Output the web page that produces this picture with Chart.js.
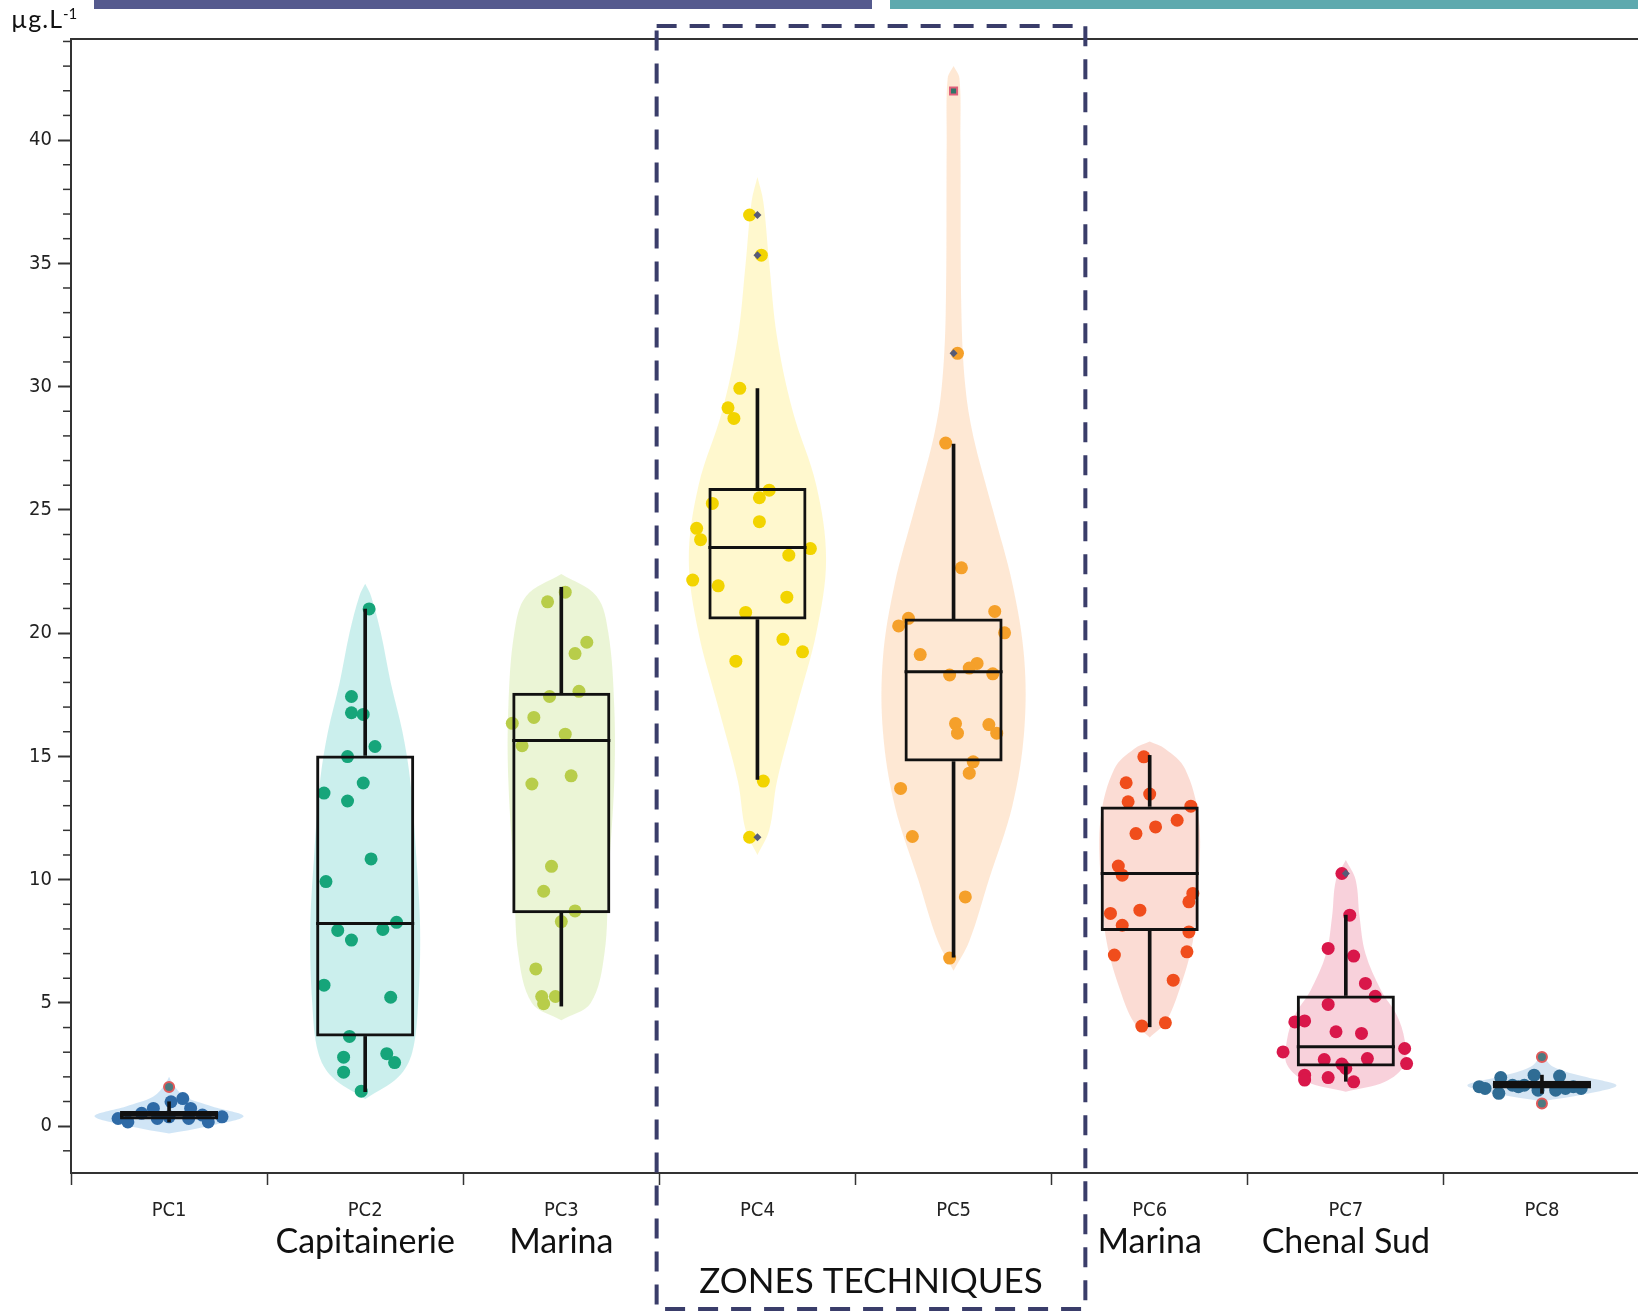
<!DOCTYPE html>
<html>
<head>
<meta charset="utf-8">
<title>PC1-PC8</title>
<script src="https://cdn.jsdelivr.net/npm/chart.js@4.4.0/dist/chart.umd.min.js"></script>
<style>
html, body { margin: 0; padding: 0; background: #fff; overflow: hidden; }
#wrap { position: relative; width: 1638px; height: 1313px; overflow: hidden; }
#chart { position: absolute; left: 0; top: 0; }
.band { position: absolute; top: 0; height: 9px; }
#unit { position: absolute; left: 11px; top: 3px; font: 25px Lato, sans-serif; letter-spacing: 1px; color: #111; }
#unit sup { font-size: 15px; letter-spacing: 0; }
</style>
</head>
<body>
<div id="wrap">
  <canvas id="chart" width="1647" height="1313"></canvas>
  <div class="band" style="left:94px;width:778px;background:#555a8e"></div>
  <div class="band" style="left:890px;width:760px;background:#5ea9ae"></div>
  <div id="unit">µg.L<sup>-1</sup></div>
</div>
<script>
// categories and labels
const categories = ['PC1', 'PC2', 'PC3', 'PC4', 'PC5', 'PC6', 'PC7', 'PC8'];
const siteNames = ['', 'Capitainerie', 'Marina', '', '', 'Marina', 'Chenal Sud', ''];
const zoneLabel = 'ZONES TECHNIQUES';
const yMin = -1.9;
const yMax = 44.1;

// box plot stats (µg/L)
const boxQ1 = [0.27, 3.64, 8.64, 20.55, 14.79, 7.92, 2.42, 1.53];
const boxMedian = [0.45, 8.22, 15.64, 23.47, 18.43, 10.25, 3.22, 1.69];
const boxQ3 = [0.62, 15.04, 17.58, 25.89, 20.59, 12.97, 5.30, 1.84];
const whiskerLow = [0.17, 1.40, 4.87, 14.07, 6.86, 4.03, 1.82, 1.33];
const whiskerHigh = [0.99, 20.97, 21.86, 29.92, 27.67, 15.04, 8.56, 2.07];

// jittered points: [horizontal jitter, value]
const pointsPC1 = [[-0.26,0.31],[-0.21,0.17],[-0.14,0.52],[-0.08,0.72],[-0.06,0.31],[0.00,0.38],[0.01,0.99],[0.07,1.12],[0.10,0.31],[0.11,0.72],[0.17,0.45],[0.20,0.17],[0.27,0.38]];
const pointsPC2 = [[0.02,20.98],[-0.07,17.43],[-0.07,16.77],[-0.01,16.70],[0.05,15.40],[-0.09,14.99],[-0.01,13.92],[-0.21,13.51],[-0.09,13.19],[0.03,10.84],[-0.20,9.92],[0.16,8.27],[-0.14,7.94],[0.09,7.98],[-0.07,7.55],[-0.21,5.72],[0.13,5.23],[-0.08,3.64],[0.11,2.94],[0.15,2.58],[-0.11,2.80],[-0.11,2.19],[-0.02,1.42]];
const pointsPC3 = [[0.02,21.66],[-0.07,21.27],[0.13,19.63],[0.07,19.17],[0.09,17.64],[-0.06,17.43],[-0.25,16.34],[-0.14,16.58],[0.02,15.90],[-0.20,15.43],[-0.15,13.88],[0.05,14.21],[-0.05,10.54],[-0.09,9.53],[0.07,8.73],[0.00,8.30],[-0.13,6.38],[-0.10,5.26],[-0.09,4.97],[-0.03,5.26]];
const pointsPC4 = [[-0.04,36.96],[0.02,35.33],[-0.09,29.93],[-0.15,29.14],[-0.12,28.71],[0.06,25.80],[0.01,25.49],[-0.23,25.26],[0.01,24.52],[-0.31,24.25],[-0.29,23.79],[0.27,23.43],[0.16,23.16],[-0.33,22.15],[-0.20,21.92],[0.15,21.46],[-0.06,20.84],[0.13,19.75],[0.23,19.24],[-0.11,18.86],[0.03,14.00],[-0.04,11.72]];
const pointsPC5 = [[0.02,31.35],[-0.04,27.71],[0.04,22.65],[0.21,20.88],[-0.23,20.60],[-0.28,20.29],[0.26,20.01],[-0.17,19.13],[0.12,18.77],[0.08,18.58],[0.20,18.35],[-0.02,18.30],[0.01,16.33],[0.18,16.29],[0.02,15.94],[0.22,15.94],[0.10,14.78],[0.08,14.32],[-0.27,13.70],[-0.21,11.75],[0.06,9.30],[-0.02,6.82]];
const pointsPC6 = [[-0.03,14.98],[-0.12,13.93],[0.00,13.47],[-0.11,13.16],[0.21,12.98],[0.14,12.41],[0.03,12.14],[-0.07,11.87],[-0.16,10.55],[-0.14,10.18],[0.22,9.44],[0.20,9.10],[-0.05,8.76],[-0.20,8.63],[-0.14,8.15],[0.20,7.88],[-0.18,6.94],[0.19,7.07],[0.12,5.92],[-0.04,4.06],[0.08,4.19]];
const pointsPC7 = [[-0.02,10.25],[0.02,8.56],[-0.09,7.21],[0.04,6.90],[0.10,5.79],[0.15,5.27],[-0.09,4.94],[-0.26,4.23],[-0.21,4.27],[-0.05,3.83],[0.08,3.76],[-0.32,3.01],[0.30,3.15],[-0.11,2.70],[0.11,2.74],[-0.02,2.52],[0.31,2.54],[0.00,2.34],[-0.21,2.07],[-0.09,1.97],[0.04,1.80],[-0.21,1.87]];
const pointsPC8 = [[-0.32,1.60],[-0.29,1.53],[-0.21,1.97],[-0.22,1.33],[-0.15,1.66],[-0.12,1.60],[-0.09,1.66],[-0.04,2.07],[-0.02,1.46],[0.07,1.46],[0.09,2.03],[0.12,1.53],[0.16,1.60],[0.20,1.53]];

// violin outlines: [value, half width in category units]
const violinPC1 = [[-0.3,0],[0.0,0.2],[0.4,0.38],[0.8,0.22],[1.2,0.08],[1.7,0.02],[2.0,0]];
const violinPC2 = [[1.1,0],[2,0.17],[3,0.24],[5,0.27],[8,0.28],[11,0.26],[14,0.23],[16,0.19],[18,0.13],[20,0.08],[21.5,0.03],[22,0]];
const violinPC3 = [[4.3,0],[5,0.15],[7,0.22],[10,0.24],[14,0.27],[17,0.27],[20,0.24],[21.5,0.18],[22.4,0]];
const violinPC4 = [[11,0],[12,0.06],[14,0.1],[17,0.2],[20,0.3],[23,0.35],[26,0.3],[29,0.18],[32,0.1],[35,0.06],[37.5,0.03],[38.5,0]];
const violinPC5 = [[6.3,0],[7.5,0.08],[10,0.18],[13,0.3],[16,0.36],[19,0.36],[22,0.3],[25,0.2],[28,0.1],[30,0.06],[33,0.04],[40,0.035],[42.5,0.03],[43,0]];
const violinPC6 = [[3.6,0],[4.2,0.08],[5.5,0.15],[7.5,0.22],[10,0.25],[12.5,0.25],[14.5,0.18],[15.3,0.08],[15.6,0]];
const violinPC7 = [[1.4,0],[1.8,0.2],[2.5,0.3],[3.5,0.3],[4.5,0.26],[5.5,0.18],[7,0.1],[8.5,0.07],[10,0.05],[10.8,0]];
const violinPC8 = [[1.0,0],[1.3,0.22],[1.65,0.38],[2.0,0.22],[2.4,0.06],[2.9,0]];

// outliers
const diamondOutlierGroup = [3, 3, 3, 4, 6];
const diamondOutlierValue = [36.96, 35.33, 11.72, 31.35, 10.25];
const ringOutlierGroup = [0, 7, 7];
const ringOutlierValue = [1.59, 2.81, 0.92];
const squareOutlierGroup = [4];
const squareOutlierValue = [41.99];

const pointColors = ['#2e6aa6', '#16a57a', '#b8cd4a', '#f2d400', '#f5a02a', '#f04d1c', '#d9174a', '#2f6c94'];
const violinColors = ['rgba(120,180,230,0.35)', 'rgba(160,225,222,0.55)', 'rgba(226,241,196,0.7)', 'rgba(255,245,190,0.75)',
    'rgba(253,224,198,0.75)', 'rgba(250,208,198,0.75)', 'rgba(246,198,210,0.8)', 'rgba(150,190,225,0.4)'];

const allPoints = [pointsPC1, pointsPC2, pointsPC3, pointsPC4, pointsPC5, pointsPC6, pointsPC7, pointsPC8];
const allViolins = [violinPC1, violinPC2, violinPC3, violinPC4, violinPC5, violinPC6, violinPC7, violinPC8];

const tickFont = '"DejaVu Sans Condensed", "Liberation Sans Narrow", sans-serif';

// closed outline: right side going up, left side coming down
function violinShape(profile, i) {
    const right = profile.map(p => ({x: i + p[1], y: p[0]}));
    const left = profile.slice().reverse().map(p => ({x: i - p[1], y: p[0]}));
    return right.concat(left);
}

const datasets = [];
allViolins.forEach((v, i) => {
    datasets.push({
        type: 'line', xAxisID: 'xv', data: violinShape(v, i),
        fill: 'shape', backgroundColor: violinColors[i], borderColor: 'rgba(0,0,0,0)', borderWidth: 0,
        pointRadius: 0, tension: 0.35, order: 10
    });
});
allPoints.forEach((pts, i) => {
    datasets.push({
        type: 'scatter', xAxisID: 'xv', data: pts.map(p => ({x: i + p[0], y: p[1]})),
        backgroundColor: pointColors[i], borderWidth: 0, pointRadius: 6.5, order: 8
    });
});
// whiskers as thin floating bars
datasets.push({
    type: 'bar', xAxisID: 'x', data: categories.map((c, i) => [whiskerLow[i], boxQ1[i]]),
    backgroundColor: '#111', barThickness: 3, grouped: false, order: 6
});
datasets.push({
    type: 'bar', xAxisID: 'x', data: categories.map((c, i) => [boxQ3[i], whiskerHigh[i]]),
    backgroundColor: '#111', barThickness: 3, grouped: false, order: 6
});
// boxes
const boxIndex = datasets.length;
datasets.push({
    type: 'bar', xAxisID: 'x', data: categories.map((c, i) => [boxQ1[i], boxQ3[i]]),
    backgroundColor: 'rgba(255,255,255,0)', borderColor: '#111', borderWidth: 3, borderSkipped: false,
    categoryPercentage: 1, barPercentage: 0.5, grouped: false, order: 5
});
// outliers
datasets.push({
    type: 'scatter', xAxisID: 'xv',
    data: diamondOutlierGroup.map((g, k) => ({x: g, y: diamondOutlierValue[k]})),
    pointStyle: 'rectRot', pointRadius: 4, backgroundColor: '#565b78', borderWidth: 0, order: 1
});
datasets.push({
    type: 'scatter', xAxisID: 'xv',
    data: ringOutlierGroup.map((g, k) => ({x: g, y: ringOutlierValue[k]})),
    pointRadius: 5, backgroundColor: '#4d7a80', borderColor: '#e05a5a', borderWidth: 2, order: 1
});
datasets.push({
    type: 'scatter', xAxisID: 'xv',
    data: squareOutlierGroup.map((g, k) => ({x: g, y: squareOutlierValue[k]})),
    pointStyle: 'rect', pointRadius: 5, backgroundColor: '#2f7468', borderColor: '#e0607a', borderWidth: 2, order: 1
});

const decor = {
    id: 'decor',
    afterDatasetsDraw(chart) {
        // median lines across the boxes
        const ctx = chart.ctx;
        const y = chart.scales.y;
        const meta = chart.getDatasetMeta(boxIndex);
        ctx.save();
        ctx.strokeStyle = '#111';
        ctx.lineWidth = 3;
        meta.data.forEach((bar, i) => {
            const py = y.getPixelForValue(boxMedian[i]);
            ctx.beginPath();
            ctx.moveTo(bar.x - bar.width / 2, py);
            ctx.lineTo(bar.x + bar.width / 2, py);
            ctx.stroke();
        });
        ctx.restore();
    },
    afterDraw(chart) {
        const ctx = chart.ctx;
        const area = chart.chartArea;
        const y = chart.scales.y;
        const x = chart.scales.x;
        const xv = chart.scales.xv;
        ctx.save();
        // top frame line
        ctx.strokeStyle = '#333';
        ctx.lineWidth = 2;
        ctx.beginPath();
        ctx.moveTo(area.left, area.top);
        ctx.lineTo(area.right, area.top);
        ctx.stroke();
        // minor ticks every unit
        ctx.lineWidth = 1.5;
        for (let v = Math.ceil(yMin); v <= Math.floor(yMax); v++) {
            if (v % 5 === 0) continue;
            const py = y.getPixelForValue(v);
            ctx.beginPath();
            ctx.moveTo(area.left - 8, py);
            ctx.lineTo(area.left, py);
            ctx.stroke();
        }
        // site names under the PC labels
        ctx.fillStyle = '#111';
        ctx.font = '34px Lato, sans-serif';
        ctx.textAlign = 'center';
        ctx.textBaseline = 'middle';
        siteNames.forEach((name, i) => {
            if (name) ctx.fillText(name, x.getPixelForValue(i), area.bottom + 69);
        });
        // technical zones dashed frame
        const left = xv.getPixelForValue(2.486);
        const right = xv.getPixelForValue(4.672);
        ctx.strokeStyle = '#3a3d6a';
        ctx.lineWidth = 4;
        ctx.setLineDash([20, 13]);
        ctx.strokeRect(left, area.top - 13, right - left, area.bottom - area.top + 149);
        ctx.setLineDash([]);
        ctx.font = '35px Lato, sans-serif';
        ctx.fillText(zoneLabel, (left + right) / 2, area.bottom + 109);
        ctx.restore();
    }
};

new Chart(document.getElementById('chart'), {
    type: 'bar',
    data: { labels: categories, datasets: datasets },
    options: {
        responsive: false,
        animation: false,
        events: [],
        layout: { padding: { top: 39, left: 0, right: 0, bottom: 0 } },
        plugins: { legend: { display: false }, tooltip: { enabled: false } },
        scales: {
            x: {
                type: 'category',
                offset: true,
                grid: { offset: true, drawOnChartArea: false, tickLength: 12, tickWidth: 1.5, tickColor: '#333' },
                border: { color: '#333', width: 2 },
                ticks: { color: '#222', padding: 14, font: { family: tickFont, size: 20 } },
                afterFit: scale => { scale.height = 140; }
            },
            xv: { type: 'linear', display: false, offset: false, min: -0.5, max: 7.5 },
            y: {
                type: 'linear',
                min: yMin,
                max: yMax,
                grid: { drawOnChartArea: false, tickLength: 13, tickWidth: 2, tickColor: '#333' },
                border: { color: '#333', width: 2 },
                ticks: { stepSize: 5, includeBounds: false, color: '#222', padding: 6, font: { family: tickFont, size: 20 } },
                afterFit: scale => { scale.width = 71; }
            }
        }
    },
    plugins: [decor]
});
</script>
</body>
</html>
